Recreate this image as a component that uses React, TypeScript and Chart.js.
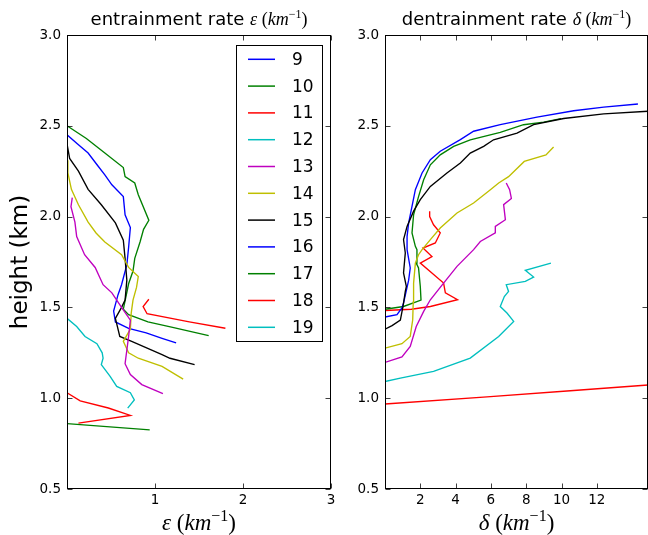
import React, { useEffect, useRef } from 'react';
import { Chart, registerables } from 'chart.js';

Chart.register(...registerables);

// Profile labels and the classic b, g, r, c, m, y, k colour cycle
const seriesLabels = ['9', '10', '11', '12', '13', '14', '15', '16', '17', '18', '19'];
const seriesColors = ['#0000ff', '#008000', '#ff0000', '#00bfbf', '#bf00bf', '#bfbf00', '#000000', '#0000ff', '#008000', '#ff0000', '#00bfbf'];

// Entrainment rate profiles: [epsilon (km^-1), height (km)]
const ent10 = [[0.0, 0.860], [0.94, 0.826]];
const ent11 = [[0.0, 1.030], [0.15, 0.985], [0.47, 0.946], [0.72, 0.905], [0.13, 0.863]];
const ent12 = [[0.0, 1.44], [0.11, 1.395], [0.205, 1.34], [0.34, 1.30], [0.40, 1.25], [0.41, 1.22], [0.39, 1.185], [0.49, 1.12], [0.565, 1.065], [0.72, 1.03], [0.765, 0.99], [0.69, 0.945]];
const ent13 = [[0.06, 2.105], [0.045, 2.055], [0.09, 1.97], [0.11, 1.89], [0.20, 1.79], [0.32, 1.72], [0.41, 1.625], [0.51, 1.58], [0.62, 1.50], [0.72, 1.43], [0.70, 1.34], [0.66, 1.19], [0.72, 1.13], [0.85, 1.075], [1.09, 1.025]];
const ent14 = [[0.0, 2.31], [0.01, 2.24], [0.05, 2.15], [0.13, 2.065], [0.24, 1.97], [0.33, 1.91], [0.43, 1.86], [0.62, 1.79], [0.70, 1.72], [0.81, 1.67], [0.79, 1.61], [0.75, 1.54], [0.73, 1.47], [0.72, 1.38], [0.64, 1.313], [0.70, 1.25], [0.81, 1.22], [1.08, 1.175], [1.32, 1.105]];
const ent15 = [[0.0, 2.40], [0.03, 2.32], [0.13, 2.25], [0.24, 2.15], [0.39, 2.065], [0.55, 1.965], [0.64, 1.87], [0.66, 1.77], [0.68, 1.65], [0.66, 1.54], [0.62, 1.50], [0.55, 1.44], [0.60, 1.34], [0.735, 1.313], [1.08, 1.24], [1.17, 1.22], [1.45, 1.185]];
const ent16 = [[0.0, 2.45], [0.12, 2.40], [0.24, 2.35], [0.35, 2.28], [0.43, 2.23], [0.51, 2.175], [0.64, 2.11], [0.66, 2.01], [0.72, 1.94], [0.70, 1.83], [0.68, 1.735], [0.62, 1.625], [0.58, 1.57], [0.53, 1.48], [0.55, 1.42], [0.70, 1.385], [0.90, 1.36], [1.08, 1.33], [1.24, 1.305]];
const ent17 = [[0.0, 2.50], [0.22, 2.43], [0.43, 2.35], [0.64, 2.27], [0.66, 2.22], [0.77, 2.185], [0.81, 2.12], [0.93, 1.98], [0.87, 1.93], [0.83, 1.86], [0.77, 1.77], [0.75, 1.70], [0.70, 1.63], [0.67, 1.56], [0.64, 1.49], [0.70, 1.46], [0.92, 1.42], [1.20, 1.39], [1.61, 1.345]];
const ent18 = [[0.93, 1.545], [0.865, 1.505], [0.91, 1.465], [1.39, 1.42], [1.80, 1.385]];

// Detrainment rate profiles: [delta (km^-1), height (km)]
const det11 = [[0.0, 0.968], [5.78, 1.007], [10.5, 1.041], [15.2, 1.075]];
const det12 = [[0.0, 1.092], [0.87, 1.111], [2.75, 1.148], [4.83, 1.221], [6.44, 1.34], [7.29, 1.423], [6.91, 1.469], [6.53, 1.505], [6.76, 1.56], [7.0, 1.588], [6.87, 1.625], [7.95, 1.643], [8.42, 1.667], [7.95, 1.704], [9.40, 1.744]];
const det13 = [[0.0, 1.197], [0.96, 1.227], [1.43, 1.285], [1.77, 1.395], [2.19, 1.478], [2.57, 1.542], [3.32, 1.634], [4.08, 1.726], [5.02, 1.818], [5.40, 1.863], [6.25, 1.91], [6.25, 1.946], [6.82, 1.983], [6.72, 2.066], [7.16, 2.10], [7.06, 2.148], [6.87, 2.185]];
const det14 = [[0.0, 1.276], [0.96, 1.30], [1.43, 1.34], [1.57, 1.432], [1.60, 1.53], [1.62, 1.634], [1.72, 1.744], [1.90, 1.79], [2.10, 1.818], [2.57, 1.873], [3.13, 1.937], [4.08, 2.02], [5.02, 2.075], [5.97, 2.148], [6.44, 2.185], [7.0, 2.22], [7.89, 2.304], [9.12, 2.34], [9.55, 2.383]];
const det15 = [[0.0, 1.38], [0.40, 1.40], [0.87, 1.43], [1.02, 1.505], [1.15, 1.588], [1.21, 1.615], [1.05, 1.69], [1.15, 1.80], [1.05, 1.873], [1.25, 1.946], [1.62, 2.03], [2.0, 2.093], [2.57, 2.166], [3.51, 2.24], [4.27, 2.295], [4.83, 2.35], [5.59, 2.387], [6.15, 2.423], [7.48, 2.46], [8.42, 2.506], [10.12, 2.54], [12.39, 2.566], [15.2, 2.582]];
const det16 = [[0.0, 1.447], [0.68, 1.46], [0.96, 1.497], [1.05, 1.524], [1.34, 1.65], [1.43, 1.717], [1.25, 1.818], [1.25, 1.89], [1.34, 1.965], [1.53, 2.056], [1.72, 2.148], [2.10, 2.24], [2.57, 2.313], [3.13, 2.36], [4.27, 2.424], [5.02, 2.47], [6.53, 2.506], [8.61, 2.548], [10.69, 2.583], [12.39, 2.603], [14.33, 2.62]];
const det17 = [[0.0, 1.49], [1.05, 1.505], [2.04, 1.54], [2.0, 1.615], [1.90, 1.717], [1.77, 1.744], [1.81, 1.818], [1.72, 1.836], [1.53, 1.91], [1.62, 2.01], [1.90, 2.11], [2.19, 2.203], [2.57, 2.285], [3.13, 2.34], [3.89, 2.387], [4.83, 2.423], [6.53, 2.464], [7.85, 2.506], [8.99, 2.52], [9.97, 2.54]];
const det18 = [[0.0, 1.483], [1.5, 1.49], [2.57, 1.505], [4.11, 1.542], [3.42, 1.58], [3.32, 1.634], [2.0, 1.744], [2.66, 1.78], [2.15, 1.827], [2.85, 1.855], [3.13, 1.91], [2.75, 1.955], [2.53, 2.0], [2.53, 2.03]];

const entProfiles = [[], ent10, ent11, ent12, ent13, ent14, ent15, ent16, ent17, ent18, []];
const detProfiles = [[], [], det11, det12, det13, det14, det15, det16, det17, det18, []];

// Tick positions
const heightTicks = [0.5, 1.0, 1.5, 2.0, 2.5, 3.0];
const entTicks = [1, 2, 3];
const detTicks = [2, 4, 6, 8, 10, 12];

const SANS = '"DejaVu Sans", sans-serif';
const SERIF = '"Liberation Serif", "DejaVu Serif", serif';

type Run = { t: string; f: string; dy?: number };

function mathUnit(sym: string, size: number): Run[] {
  const sup = Math.round(size * 0.68);
  return [
    { t: sym, f: `italic ${size}px ${SERIF}` },
    { t: ' (', f: `${size}px ${SERIF}` },
    { t: 'km', f: `italic ${size}px ${SERIF}` },
    { t: '\u22121', f: `${sup}px ${SERIF}`, dy: -Math.round(size * 0.4) },
    { t: ')', f: `${size}px ${SERIF}` },
  ];
}

function drawRuns(ctx: CanvasRenderingContext2D, runs: Run[], cx: number, baseline: number) {
  let total = 0;
  runs.forEach((r) => {
    ctx.font = r.f;
    total += ctx.measureText(r.t).width;
  });
  let x = cx - total / 2;
  ctx.textAlign = 'left';
  ctx.textBaseline = 'alphabetic';
  runs.forEach((r) => {
    ctx.font = r.f;
    ctx.fillText(r.t, x, baseline + (r.dy || 0));
    x += ctx.measureText(r.t).width;
  });
}

// Axes frame with inward tick marks on all four sides
const framePlugin = {
  id: 'frame',
  afterDatasetsDraw(chart: any) {
    const { ctx, chartArea, scales } = chart;
    const left = Math.round(chartArea.left) + 0.5;
    const right = Math.round(chartArea.right) - 0.5;
    const top = Math.round(chartArea.top) + 0.5;
    const bottom = Math.round(chartArea.bottom) - 0.5;
    const L = 5;
    ctx.save();
    ctx.strokeStyle = 'rgba(0,0,0,0.75)';
    ctx.lineWidth = 1;
    ctx.beginPath();
    scales.x.ticks.forEach((t: any) => {
      const px = Math.round(scales.x.getPixelForValue(t.value)) + 0.5;
      ctx.moveTo(px, bottom);
      ctx.lineTo(px, bottom - L);
      ctx.moveTo(px, top);
      ctx.lineTo(px, top + L);
    });
    scales.y.ticks.forEach((t: any) => {
      const py = Math.round(scales.y.getPixelForValue(t.value)) + 0.5;
      ctx.moveTo(left, py);
      ctx.lineTo(left + L, py);
      ctx.moveTo(right, py);
      ctx.lineTo(right - L, py);
    });
    ctx.stroke();
    ctx.strokeStyle = '#000';
    ctx.strokeRect(left, top, right - left, bottom - top);
    ctx.restore();
  },
};

// Title, axis labels and the boxed legend
const labelPlugin = {
  id: 'labels',
  afterDraw(chart: any, _args: any, opts: any) {
    const { ctx, chartArea } = chart;
    const cx = (chartArea.left + chartArea.right) / 2;
    ctx.save();
    ctx.fillStyle = '#000';
    if (opts.title) drawRuns(ctx, opts.title, cx, chartArea.top - 10);
    if (opts.xLabel) drawRuns(ctx, opts.xLabel, cx, chartArea.bottom + 41);
    if (opts.yLabel) {
      ctx.save();
      ctx.translate(27, (chartArea.top + chartArea.bottom) / 2);
      ctx.rotate(-Math.PI / 2);
      ctx.font = `23px ${SANS}`;
      ctx.textAlign = 'center';
      ctx.textBaseline = 'alphabetic';
      ctx.fillText(opts.yLabel, 0, 0);
      ctx.restore();
    }
    if (opts.legend) {
      const datasets = chart.data.datasets;
      const w = 87;
      const rowH = 26.8;
      const h = 297;
      const bx = Math.round(chartArea.right) - 8 - w;
      const by = Math.round(chartArea.top) + 10;
      ctx.fillStyle = '#fff';
      ctx.fillRect(bx, by, w, h);
      ctx.strokeStyle = '#000';
      ctx.lineWidth = 1;
      ctx.strokeRect(bx + 0.5, by + 0.5, w - 1, h - 1);
      ctx.font = `17px ${SANS}`;
      ctx.textAlign = 'left';
      ctx.textBaseline = 'middle';
      datasets.forEach((ds: any, i: number) => {
        const yy = by + 14.3 + i * rowH;
        ctx.strokeStyle = ds.borderColor;
        ctx.lineWidth = 1.5;
        ctx.beginPath();
        ctx.moveTo(bx + 12, yy);
        ctx.lineTo(bx + 39, yy);
        ctx.stroke();
        ctx.fillStyle = '#000';
        ctx.fillText(ds.label, bx + 56, yy + 1);
      });
    }
    ctx.restore();
  },
};

function makeDatasets(profiles: number[][][]) {
  return profiles.map((pts, i) => ({
    label: seriesLabels[i],
    data: pts.map(([x, y]) => ({ x, y })),
    borderColor: seriesColors[i],
    backgroundColor: seriesColors[i],
    borderWidth: 1.35,
    pointRadius: 0,
    showLine: true,
    fill: false,
    tension: 0,
  }));
}

function makeOptions(xMin: number, xMax: number, xTicks: number[], yWidth: number, padRight: number, labels: any) {
  const tickFont = { family: SANS, size: 13.5 };
  return {
    responsive: false,
    animation: false as const,
    devicePixelRatio: 1,
    layout: { padding: { top: 35, right: padRight, left: 0, bottom: 0 } },
    plugins: {
      legend: { display: false },
      tooltip: { enabled: false },
      labels,
    },
    scales: {
      x: {
        type: 'linear' as const,
        min: xMin,
        max: xMax,
        afterBuildTicks: (s: any) => {
          s.ticks = xTicks.map((v) => ({ value: v }));
        },
        afterFit: (s: any) => {
          s.height = 46;
        },
        grid: { display: false, drawTicks: false },
        border: { display: false },
        ticks: { font: tickFont, color: '#000', padding: 3, maxRotation: 0, autoSkip: false, callback: (v: any) => String(v) },
      },
      y: {
        type: 'linear' as const,
        min: 0.5,
        max: 3.0,
        afterBuildTicks: (s: any) => {
          s.ticks = heightTicks.map((v) => ({ value: v }));
        },
        afterFit: (s: any) => {
          s.width = yWidth;
        },
        grid: { display: false, drawTicks: false },
        border: { display: false },
        ticks: { font: tickFont, color: '#000', padding: 6, autoSkip: false, callback: (v: any) => Number(v).toFixed(1) },
      },
    },
  };
}

export default function App() {
  const leftRef = useRef<HTMLCanvasElement>(null);
  const rightRef = useRef<HTMLCanvasElement>(null);

  useEffect(() => {
    const left = new Chart(leftRef.current!, {
      type: 'scatter',
      data: { datasets: makeDatasets(entProfiles) as any },
      options: makeOptions(0, 3, entTicks, 67, 9, {
        title: [{ t: 'entrainment rate ', f: `18px ${SANS}` }, ...mathUnit('\u03b5', 18)],
        xLabel: mathUnit('\u03b5', 23),
        yLabel: 'height (km)',
        legend: true,
      }) as any,
      plugins: [framePlugin, labelPlugin],
    });
    const right = new Chart(rightRef.current!, {
      type: 'scatter',
      data: { datasets: makeDatasets(detProfiles) as any },
      options: makeOptions(0, 14.9, detTicks, 45, 0, {
        title: [{ t: 'dentrainment rate ', f: `18px ${SANS}` }, ...mathUnit('\u03b4', 18)],
        xLabel: mathUnit('\u03b4', 23),
      }) as any,
      plugins: [framePlugin, labelPlugin],
    });
    return () => {
      left.destroy();
      right.destroy();
    };
  }, []);

  return (
    <div style={{ position: 'absolute', left: 0, top: 0, width: 648, height: 535, background: '#fff', overflow: 'hidden' }}>
      <canvas ref={leftRef} width={340} height={535} style={{ position: 'absolute', left: 0, top: 0 }} />
      <canvas ref={rightRef} width={308} height={535} style={{ position: 'absolute', left: 340, top: 0 }} />
    </div>
  );
}
